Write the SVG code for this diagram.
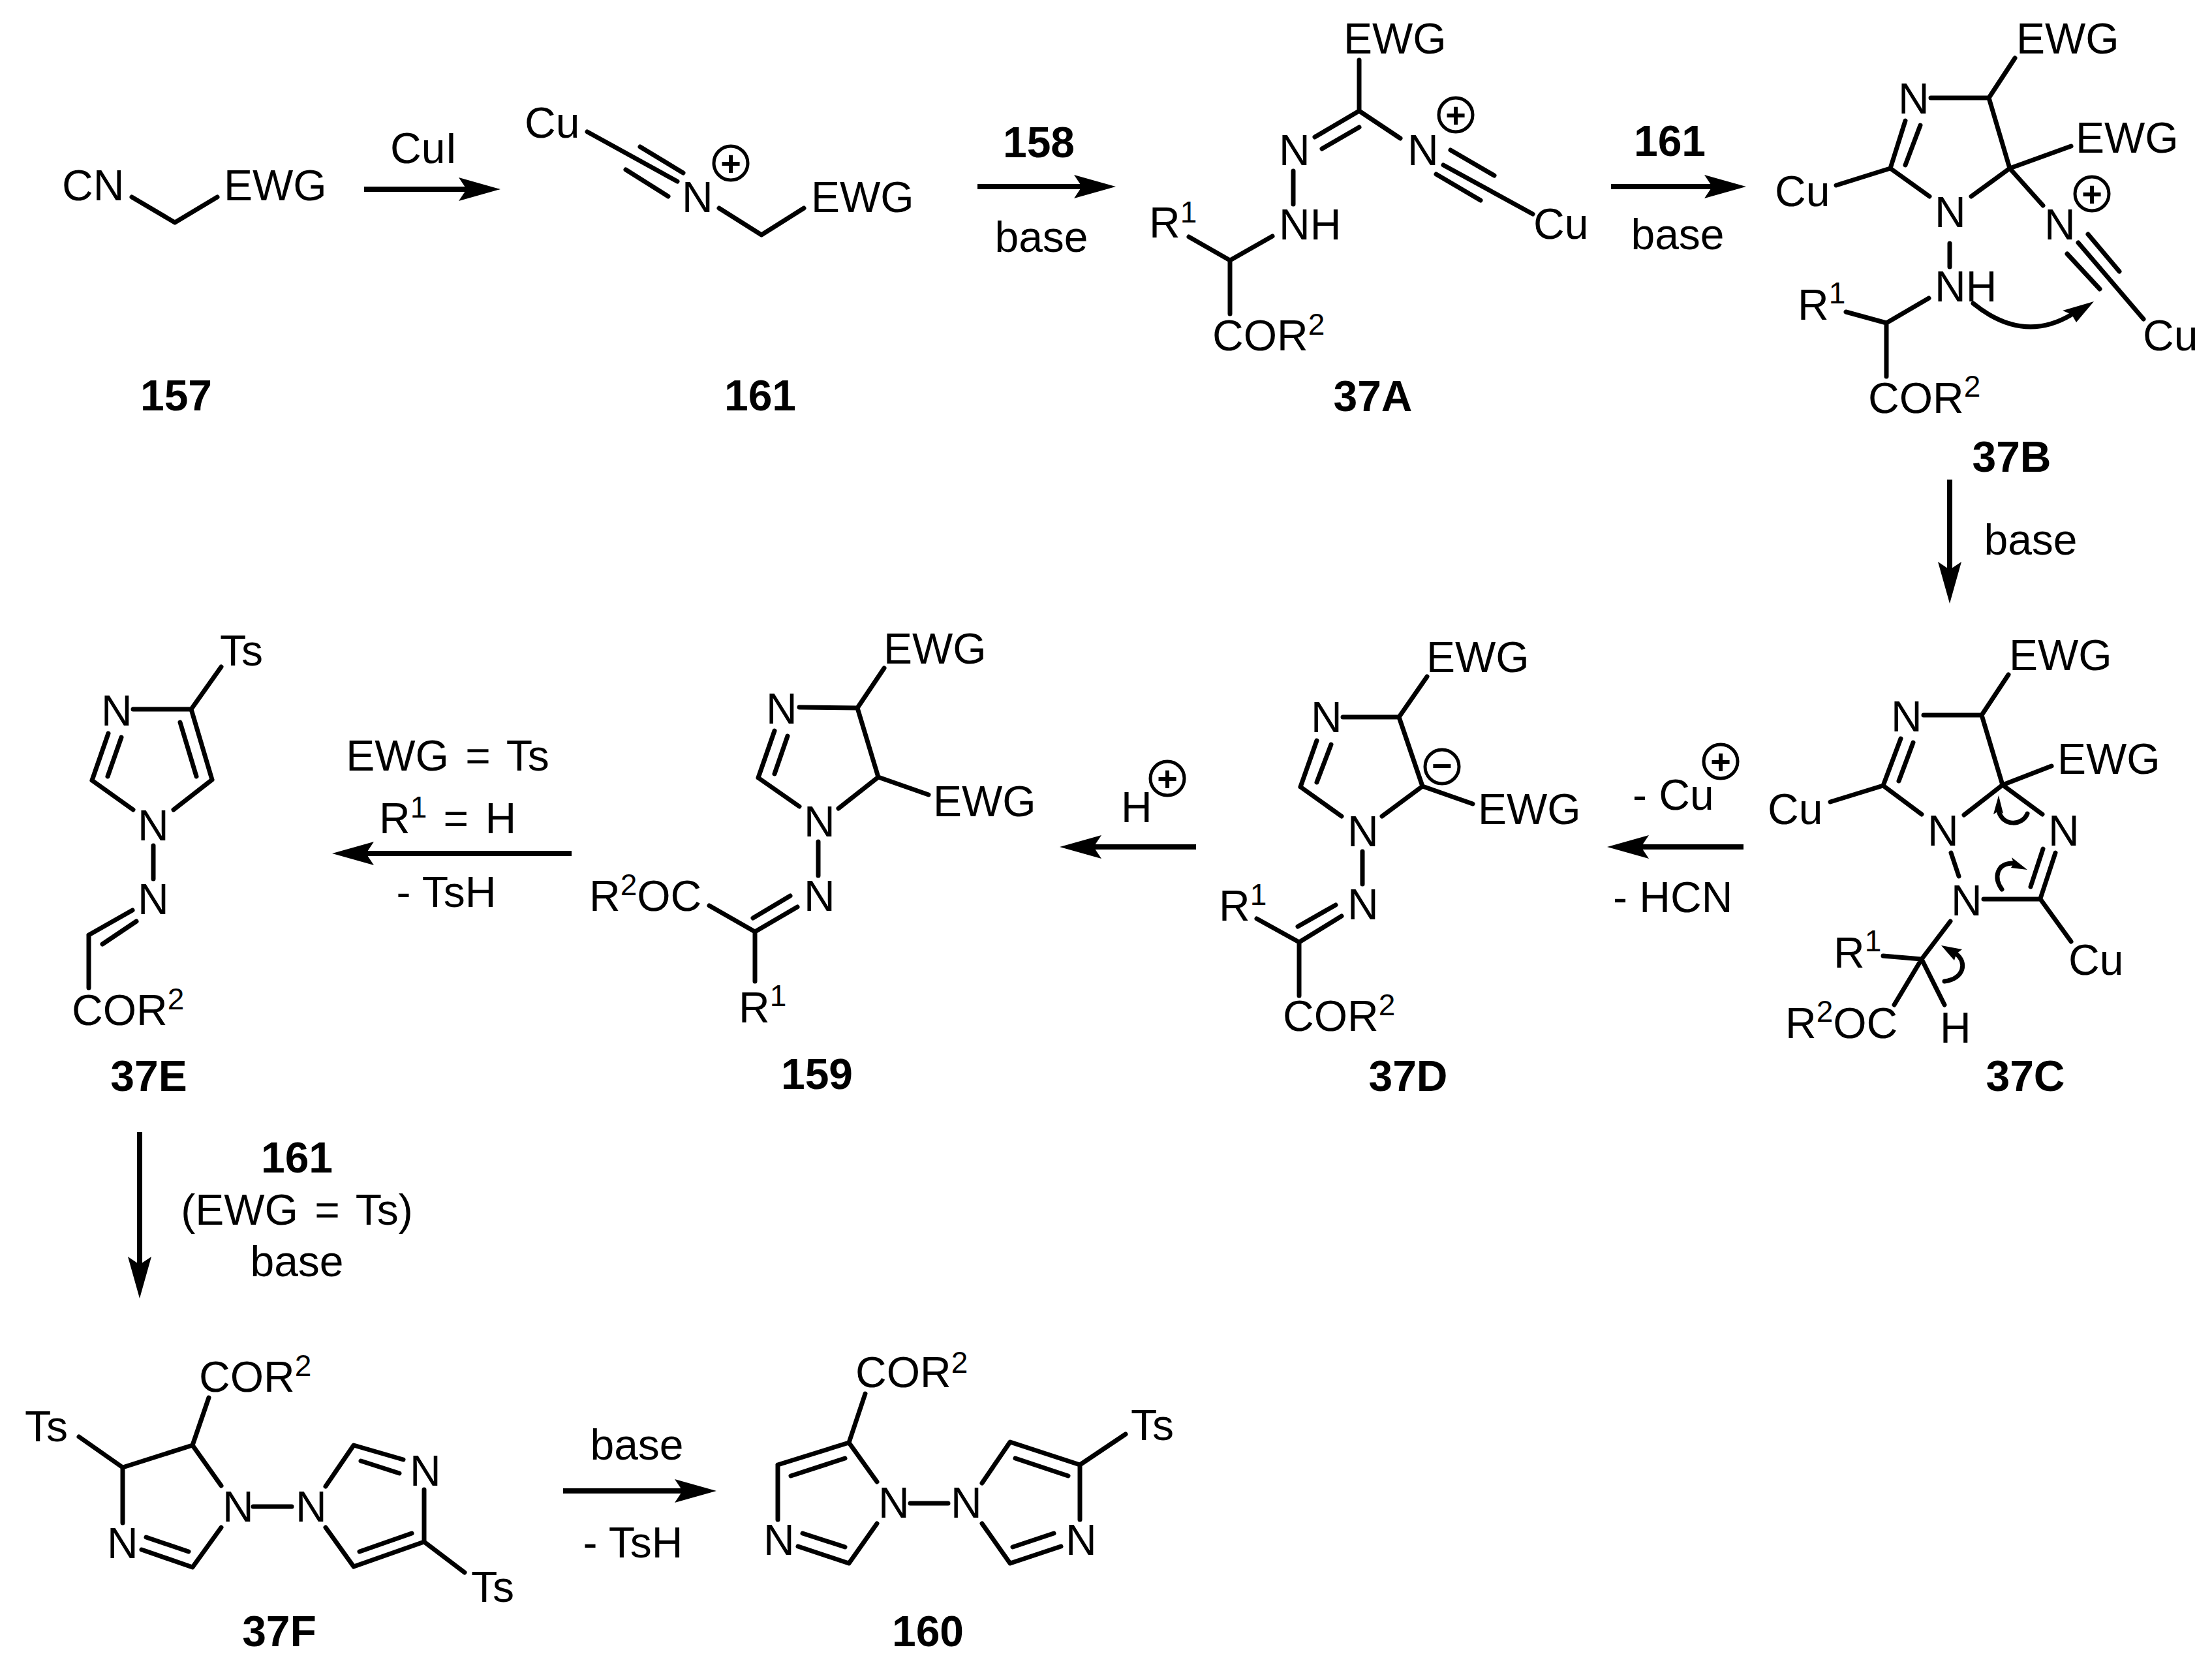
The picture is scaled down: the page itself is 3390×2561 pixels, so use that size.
<svg xmlns="http://www.w3.org/2000/svg" width="3390" height="2561" viewBox="0 0 3390 2561">
<style>
text{font-family:"Liberation Sans",Arial,sans-serif;font-size:66px;fill:#000}
.b{font-weight:700}
.m{text-anchor:middle}
.s{font-size:46px}
.w{word-spacing:7px}
.p{font-weight:700;font-size:54px;text-anchor:middle}
path.l{fill:none;stroke:#000;stroke-width:7;stroke-linecap:round;stroke-linejoin:round}
path.f{fill:#000;stroke:none}
circle{fill:none;stroke:#000;stroke-width:5}
.a{fill:none;stroke:#000;stroke-width:8;marker-end:url(#h)}
</style>
<defs>
<marker id="h" markerUnits="userSpaceOnUse" markerWidth="66" markerHeight="38" refX="12" refY="19" orient="auto"><path d="M0,1 L64,19 L0,37 L12,19 z" fill="#000"/></marker>
</defs>
<rect width="3390" height="2561" fill="#fff"/>
<g id="connectors">
<path class="a" d="M558,290H715"/>
<path class="a" d="M1498,286H1658"/>
<path class="a" d="M2469,286H2624"/>
<path class="a" d="M2988,735V873"/>
<path class="a" d="M2672,1298H2515"/>
<path class="a" d="M1833,1298H1676"/>
<path class="a" d="M876,1308H561"/>
<path class="a" d="M214,1735V1938"/>
<path class="a" d="M863,2285H1046"/>
</g>
<g id="cond">
<text x="598" y="250">CuI</text>
<text class="b m" x="1592" y="241">158</text><text class="m" x="1596" y="386">base</text>
<text class="b m" x="2559" y="239">161</text><text class="m" x="2571" y="382">base</text>
<text class="m" x="3112" y="850">base</text>
<text x="2502" y="1241">- Cu</text><circle cx="2637" cy="1167" r="26"/><text class="p" x="2637" y="1186">+</text>
<text x="2472" y="1398">- HCN</text>
<text x="1718" y="1260">H</text><circle cx="1789" cy="1193" r="26"/><text class="p" x="1789" y="1212">+</text>
<text class="m w" x="686" y="1181">EWG = Ts</text>
<text class="w" x="581" y="1277">R<tspan class="s" dy="-24">1</tspan><tspan dy="24"> = H</tspan></text>
<text class="m" x="684" y="1390">- TsH</text>
<text class="b m" x="455" y="1797">161</text>
<text class="m w" x="455" y="1877">(EWG = Ts)</text>
<text class="m" x="455" y="1956">base</text>
<text class="m" x="976" y="2237">base</text>
<text class="m" x="970" y="2387">- TsH</text>
</g>
<g id="m157">
<text x="95" y="307">CN</text><text x="343" y="307">EWG</text>
<path class="l" d="M202,302L268,341L333,302"/>
<text class="b m" x="270" y="629">157</text>
</g>
<g id="m161">
<text x="804" y="211">Cu</text><text x="1045" y="325">N</text><text x="1243" y="325">EWG</text>
<circle cx="1120" cy="250" r="26"/><text class="p" x="1120" y="269">+</text>
<path class="l" d="M900,202L1038,278M981,225L1047,265M959,260L1024,301M1102,319L1167,360L1232,319"/>
<text class="b m" x="1165" y="629">161</text>
</g>
<g id="m37A">
<text x="2059" y="82">EWG</text><text x="1960" y="253">N</text><text x="2157" y="253">N</text>
<circle cx="2231" cy="176" r="26"/><text class="p" x="2231" y="195">+</text>
<text x="2350" y="366">Cu</text><text x="1960" y="367">NH</text>
<text x="1761" y="364">R<tspan class="s" dy="-23">1</tspan></text>
<text x="1858" y="537">COR<tspan class="s" dy="-24">2</tspan></text>
<path class="l" d="M2083,92V170M2083,170L2015,210M2083,195L2026,228M2083,170L2146,212M2212,253L2349,328M2223,230L2290,269M2201,267L2269,307M1982,262V313M1822,363L1885,399L1950,362M1885,399V481"/>
<text class="b m" x="2104" y="630">37A</text>
</g>
<g id="m37B">
<text x="3090" y="82">EWG</text><text x="2909" y="174">N</text><text x="3181" y="234">EWG</text>
<text x="2720" y="316">Cu</text><text x="2965" y="348">N</text><text x="3133" y="367">N</text>
<circle cx="3206" cy="297" r="26"/><text class="p" x="3206" y="316">+</text>
<text x="3284" y="537">Cu</text><text x="2965" y="462">NH</text>
<text x="2755" y="490">R<tspan class="s" dy="-25">1</tspan></text>
<text x="2863" y="633">COR<tspan class="s" dy="-25">2</tspan></text>
<path class="l" d="M3088,89L3048,150M2959,150H3048M3048,150L3080,258M3080,258L3174,224M2897,258L2920,185M2920,253L2943,192M2814,284L2897,258M2897,258L2957,301M3021,301L3080,258M3080,258L3131,315M3185,372L3285,489M3200,359L3248,416M3168,389L3218,443M2988,373V409M2829,478L2891,495L2956,457M2891,495V577"/>
<path class="l" d="M3024,465Q3100,527 3175,482"/>
<path class="f" d="M3209,462L3161,476L3175,482L3182,494z"/>
<text class="b m" x="3083" y="723">37B</text>
</g>
<g id="m37C">
<text x="3079" y="1027">EWG</text><text x="2898" y="1121">N</text><text x="3153" y="1186">EWG</text>
<text x="2709" y="1263">Cu</text><text x="2954" y="1296">N</text><text x="3139" y="1296">N</text><text x="2990" y="1403">N</text>
<text x="3170" y="1494">Cu</text><text x="2973" y="1598">H</text>
<text x="2810" y="1483">R<tspan class="s" dy="-25">1</tspan></text>
<text x="2736" y="1591">R<tspan class="s" dy="-25">2</tspan><tspan dy="25">OC</tspan></text>
<path class="l" d="M3078,1034L3037,1096M2948,1096H3037M3037,1096L3069,1203M3069,1203L3144,1174M2886,1204L2913,1132M2910,1197L2932,1138M2805,1229L2886,1204M2886,1204L2945,1248M3010,1249L3069,1203M3069,1203L3130,1248M2990,1307L3002,1343M3127,1377L3150,1307M3112,1359L3131,1301M3040,1378H3127M3127,1378L3174,1443M2989,1412L2945,1470M2886,1465L2945,1470M2945,1470L2903,1540M2945,1470L2980,1540"/>
<path class="l" d="M3107,1247C3100,1265 3070,1268 3063,1243"/>
<path class="f" d="M3063,1219L3055,1248L3063,1243L3070,1247z"/>
<path class="l" d="M3068,1363C3055,1345 3060,1323 3085,1323"/>
<path class="f" d="M3107,1333L3083,1314L3086,1323L3082,1330z"/>
<path class="l" d="M2980,1504C3010,1500 3015,1475 2998,1462"/>
<path class="f" d="M2975,1449L3007,1455L2998,1462L2995,1472z"/>
<text class="b m" x="3104" y="1672">37C</text>
</g>
<g id="m37D">
<text x="2186" y="1030">EWG</text><text x="2009" y="1122">N</text><text x="2265" y="1263">EWG</text><text x="2065" y="1297">N</text><text x="2065" y="1409">N</text>
<circle cx="2210" cy="1175" r="26"/><text class="p" x="2210" y="1192">−</text>
<text x="1868" y="1411">R<tspan class="s" dy="-24">1</tspan></text>
<text x="1966" y="1580">COR<tspan class="s" dy="-24">2</tspan></text>
<path class="l" d="M2187,1037L2144,1099M2058,1099H2144M2144,1099L2180,1205M2018,1135L1993,1206M2040,1141L2018,1199M1993,1206L2056,1251M2118,1251L2180,1205M2180,1205L2257,1232M2088,1305V1355M2056,1404L1991,1444M2047,1387L1989,1420M1926,1408L1991,1444M1991,1444V1526"/>
<text class="b m" x="2158" y="1672">37D</text>
</g>
<g id="m159">
<text x="1354" y="1017">EWG</text><text x="1174" y="1109">N</text><text x="1430" y="1251">EWG</text><text x="1232" y="1282">N</text><text x="1232" y="1396">N</text>
<text x="1132" y="1567">R<tspan class="s" dy="-25">1</tspan></text>
<text x="903" y="1396">R<tspan class="s" dy="-24">2</tspan><tspan dy="24">OC</tspan></text>
<path class="l" d="M1355,1024L1314,1085M1225,1084L1314,1085M1314,1085L1346,1191M1346,1191L1423,1218M1346,1191L1285,1239M1225,1236L1162,1192M1162,1192L1187,1120M1187,1186L1207,1128M1254,1290V1342M1222,1390L1157,1428M1211,1373L1154,1407M1087,1388L1157,1428M1157,1428V1504"/>
<text class="b m" x="1252" y="1669">159</text>
</g>
<g id="m37E">
<text x="337" y="1020">Ts</text><text x="155" y="1112">N</text><text x="211" y="1288">N</text><text x="211" y="1401">N</text>
<text x="110" y="1571">COR<tspan class="s" dy="-24">2</tspan></text>
<path class="l" d="M339,1022L293,1087M204,1087H293M293,1087L325,1195M276,1107L301,1190M325,1195L266,1241M204,1241L141,1196M141,1196L166,1124M165,1190L186,1130M235,1296V1347M203,1395L136,1433M209,1412L157,1447M136,1433V1514"/>
<text class="b m" x="228" y="1672">37E</text>
</g>
<g id="m37F">
<text x="305" y="2133">COR<tspan class="s" dy="-24">2</tspan></text>
<text x="38" y="2209">Ts</text><text x="164" y="2388">N</text><text x="341" y="2332">N</text><text x="453" y="2332">N</text><text x="628" y="2277">N</text><text x="722" y="2455">Ts</text>
<path class="l" d="M320,2142L295,2215M121,2202L188,2249L295,2215M188,2249V2334M295,2215L339,2277M388,2309H447M339,2341L295,2402L217,2375M289,2378L224,2356M499,2278L542,2215L618,2237M553,2239L612,2258M650,2283V2363L542,2401M631,2350L551,2378M499,2341L542,2401M650,2363L712,2410"/>
<text class="b m" x="428" y="2523">37F</text>
</g>
<g id="m160">
<text x="1311" y="2126">COR<tspan class="s" dy="-22">2</tspan></text>
<text x="1170" y="2383">N</text><text x="1346" y="2326">N</text><text x="1457" y="2326">N</text><text x="1633" y="2383">N</text><text x="1733" y="2207">Ts</text>
<path class="l" d="M1326,2136L1301,2211L1192,2245M1295,2235L1212,2262M1192,2245V2329M1301,2211L1344,2271M1395,2304H1453M1344,2335L1301,2396L1223,2370M1295,2371L1230,2350M1505,2273L1548,2210L1655,2245M1556,2235L1637,2262M1655,2245V2329M1505,2335L1548,2396L1626,2370M1552,2371L1615,2350M1655,2245L1725,2198"/>
<text class="b m" x="1422" y="2523">160</text>
</g>
</svg>
